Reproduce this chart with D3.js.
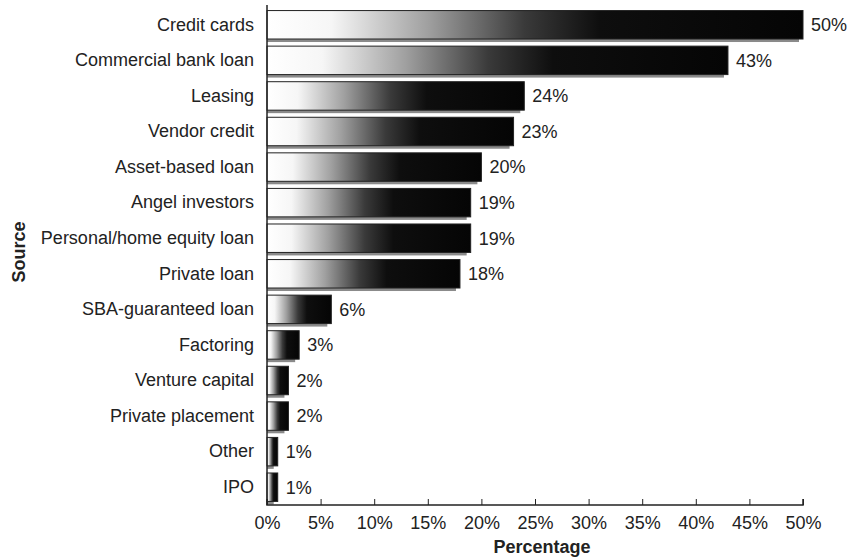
<!DOCTYPE html>
<html><head><meta charset="utf-8">
<script src="https://cdn.jsdelivr.net/npm/d3@7"></script>
<style>body{margin:0;background:#fff}svg{display:block}text{font-family:"Liberation Sans",Arial,Helvetica,sans-serif}</style>
</head><body><svg id="c" width="855" height="558"></svg>
<script>
const categories = ["Credit cards","Commercial bank loan","Leasing","Vendor credit","Asset-based loan","Angel investors","Personal/home equity loan","Private loan","SBA-guaranteed loan","Factoring","Venture capital","Private placement","Other","IPO"];
const values = [50,43,24,23,20,19,19,18,6,3,2,2,1,1];
const tickValues = [0,5,10,15,20,25,30,35,40,45,50];

const svg = d3.select("#c");
const m = {left:267, right:52, top:7, bottom:53};
const W = 855, H = 558;
const FS = 18;
const x = d3.scaleLinear().domain([0,50]).range([m.left, W-m.right]);
const y = d3.scaleBand().domain(categories).range([m.top, H-m.bottom]).paddingInner(0.2).paddingOuter(0.1);

const defs = svg.append("defs");
const g = defs.append("linearGradient").attr("id","grad").attr("x1","0").attr("x2","1").attr("y1","0").attr("y2","0");
g.append("stop").attr("offset","0").attr("stop-color","#ffffff");
g.append("stop").attr("offset","0.12").attr("stop-color","#f6f6f6");
g.append("stop").attr("offset","0.3").attr("stop-color","#a0a0a0");
g.append("stop").attr("offset","0.48").attr("stop-color","#3a3a3a");
g.append("stop").attr("offset","0.62").attr("stop-color","#0e0e0e");
g.append("stop").attr("offset","1").attr("stop-color","#050505");

// shadow strip under each bar
svg.append("g").selectAll("rect").data(values).join("rect")
  .attr("x", x(0)).attr("y", (d,i)=>y(categories[i])+y.bandwidth()-1)
  .attr("width", d=>x(d)-x(0)-4).attr("height", 4)
  .attr("fill","#8a8a8a");

svg.append("g").selectAll("rect").data(values).join("rect")
  .attr("x", x(0)).attr("y", (d,i)=>y(categories[i]))
  .attr("width", d=>x(d)-x(0)).attr("height", y.bandwidth())
  .attr("fill","url(#grad)").attr("stroke","#222").attr("stroke-width",1);

// value labels
svg.append("g").selectAll("text").data(values).join("text")
  .attr("x", d=>x(d)+8).attr("y",(d,i)=>y(categories[i])+y.bandwidth()/2)
  .attr("dy","0.35em").attr("font-size",FS).attr("fill","#222")
  .text(d=>d+"%");

// y axis
const ya = svg.append("g").attr("transform",`translate(${m.left},0)`)
  .call(d3.axisLeft(y).tickSize(0).tickPadding(13));
ya.select(".domain").attr("stroke","#222").attr("stroke-width",1.5).attr("d",`M0,${m.top-2}V${H-m.bottom}`);
ya.selectAll("text").attr("font-size",FS).attr("fill","#222").style("font-family","Liberation Sans, Arial, sans-serif");

// x axis
const xa = svg.append("g").attr("transform",`translate(0,${H-m.bottom})`)
  .call(d3.axisBottom(x).tickValues(tickValues).tickFormat(d=>d+"%").tickSize(-6).tickPadding(11));
xa.select(".domain").attr("stroke","#222").attr("stroke-width",1.5).attr("d",`M${m.left},-6V0H${x(50)}V-6`);
xa.selectAll(".tick line").attr("stroke","#222");
xa.selectAll("text").attr("font-size",FS).attr("fill","#222").style("font-family","Liberation Sans, Arial, sans-serif");

svg.append("text").attr("x", (x(0)+x(50))/2 + 7).attr("y", 553).attr("text-anchor","middle")
  .attr("font-size",FS).attr("font-weight","bold").attr("fill","#222").text("Percentage");
svg.append("text").attr("transform",`translate(25,${(m.top+H-m.bottom)/2 - 4}) rotate(-90)`)
  .attr("text-anchor","middle").attr("font-size",FS).attr("font-weight","bold").attr("fill","#222").text("Source");
</script></body></html>
